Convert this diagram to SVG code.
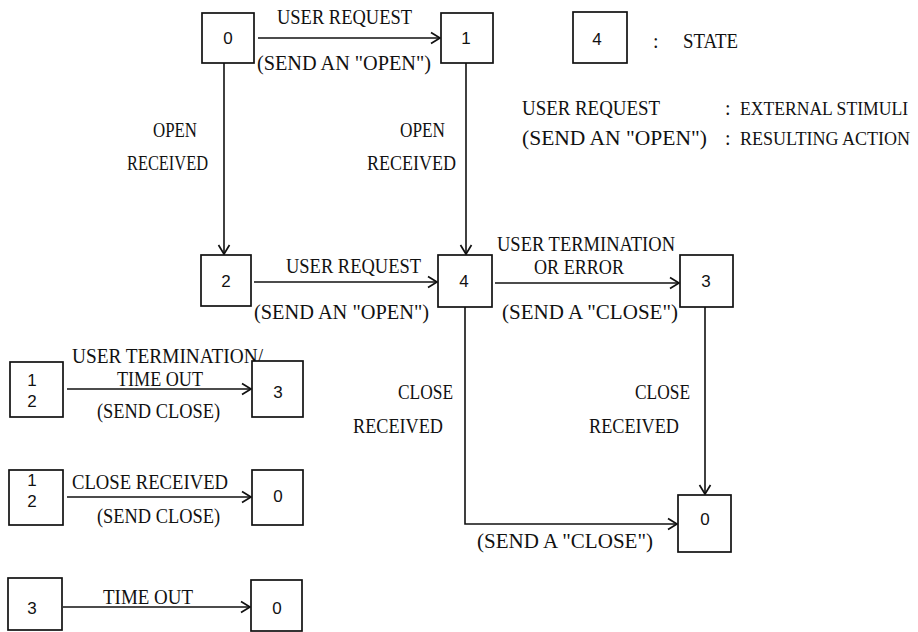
<svg xmlns="http://www.w3.org/2000/svg" width="918" height="632" viewBox="0 0 918 632">
<style>
.box{fill:#fff;stroke:#111;stroke-width:1.7}
.ln{fill:none;stroke:#111;stroke-width:1.6}
.t{font-family:"Liberation Serif",serif;font-size:20px;fill:#111}
.s{font-size:18px}
.d{font-family:"Liberation Sans",sans-serif;font-size:17px;fill:#111;text-anchor:middle}
</style>
<defs>
<marker id="ah" markerUnits="userSpaceOnUse" markerWidth="14" markerHeight="14" viewBox="-12 -7 14 14" refX="0" refY="0" orient="auto">
<path d="M-9,-5.5 L0,0 L-9,5.5" fill="none" stroke="#111" stroke-width="1.7"/>
</marker>
</defs>
<rect width="918" height="632" fill="#fff"/>

<g id="connectors">
<line class="ln" x1="258" y1="38" x2="440" y2="38" marker-end="url(#ah)"/>
<line class="ln" x1="224" y1="63" x2="224" y2="254" marker-end="url(#ah)"/>
<line class="ln" x1="466" y1="63" x2="466" y2="254" marker-end="url(#ah)"/>
<line class="ln" x1="254" y1="282" x2="437" y2="282" marker-end="url(#ah)"/>
<line class="ln" x1="495" y1="283" x2="679" y2="283" marker-end="url(#ah)"/>
<line class="ln" x1="705" y1="307" x2="705" y2="494" marker-end="url(#ah)"/>
<polyline class="ln" points="465,307 465,524 677,524" marker-end="url(#ah)"/>
<line class="ln" x1="67" y1="389" x2="251" y2="389" marker-end="url(#ah)"/>
<line class="ln" x1="67" y1="497" x2="251" y2="497" marker-end="url(#ah)"/>
<line class="ln" x1="63" y1="607" x2="250" y2="607" marker-end="url(#ah)"/>
</g>

<g id="labels">
<text class="t" x="277" y="24" textLength="135" lengthAdjust="spacingAndGlyphs">USER REQUEST</text>
<text class="t" x="257" y="70" textLength="174" lengthAdjust="spacingAndGlyphs">(SEND AN "OPEN")</text>
<text class="t" x="153" y="137" textLength="44" lengthAdjust="spacingAndGlyphs">OPEN</text>
<text class="t" x="127" y="170" textLength="81" lengthAdjust="spacingAndGlyphs">RECEIVED</text>
<text class="t" x="400" y="137" textLength="45" lengthAdjust="spacingAndGlyphs">OPEN</text>
<text class="t" x="367" y="170" textLength="89" lengthAdjust="spacingAndGlyphs">RECEIVED</text>
<text class="t" x="286" y="273" textLength="135" lengthAdjust="spacingAndGlyphs">USER REQUEST</text>
<text class="t" x="254" y="319" textLength="175" lengthAdjust="spacingAndGlyphs">(SEND AN "OPEN")</text>
<text class="t" x="497" y="251" textLength="178" lengthAdjust="spacingAndGlyphs">USER TERMINATION</text>
<text class="t" x="534" y="274" textLength="90" lengthAdjust="spacingAndGlyphs">OR ERROR</text>
<text class="t" x="502" y="319" textLength="176" lengthAdjust="spacingAndGlyphs">(SEND A "CLOSE")</text>
<text class="t" x="398" y="399" textLength="55" lengthAdjust="spacingAndGlyphs">CLOSE</text>
<text class="t" x="353" y="433" textLength="90" lengthAdjust="spacingAndGlyphs">RECEIVED</text>
<text class="t" x="635" y="399" textLength="55" lengthAdjust="spacingAndGlyphs">CLOSE</text>
<text class="t" x="589" y="433" textLength="90" lengthAdjust="spacingAndGlyphs">RECEIVED</text>
<text class="t" x="477" y="548" textLength="176" lengthAdjust="spacingAndGlyphs">(SEND A "CLOSE")</text>
<text class="t" x="72" y="363" textLength="191" lengthAdjust="spacingAndGlyphs">USER TERMINATION/</text>
<text class="t" x="117" y="386" textLength="86" lengthAdjust="spacingAndGlyphs">TIME OUT</text>
<text class="t" x="97" y="418" textLength="123" lengthAdjust="spacingAndGlyphs">(SEND CLOSE)</text>
<text class="t" x="72" y="489" textLength="156" lengthAdjust="spacingAndGlyphs">CLOSE RECEIVED</text>
<text class="t" x="97" y="523" textLength="123" lengthAdjust="spacingAndGlyphs">(SEND CLOSE)</text>
<text class="t" x="103" y="604" textLength="90" lengthAdjust="spacingAndGlyphs">TIME OUT</text>
</g>

<g id="legend">
<rect class="box" x="573" y="12" width="54" height="51"/>
<text class="d" x="597" y="45">4</text>
<text class="t" x="653" y="48">:</text>
<text class="t" x="683" y="48" textLength="55" lengthAdjust="spacingAndGlyphs">STATE</text>
<text class="t" x="522" y="115" textLength="138" lengthAdjust="spacingAndGlyphs">USER REQUEST</text>
<text class="t" x="725" y="115">:</text>
<text class="t s" x="740" y="115" textLength="168" lengthAdjust="spacingAndGlyphs">EXTERNAL STIMULI</text>
<text class="t" x="522" y="145" textLength="185" lengthAdjust="spacingAndGlyphs">(SEND AN "OPEN")</text>
<text class="t" x="725" y="145">:</text>
<text class="t s" x="740" y="145" textLength="170" lengthAdjust="spacingAndGlyphs">RESULTING ACTION</text>
</g>

<g id="s0_top"><rect class="box" x="202" y="13" width="52" height="50"/><text class="d" x="228" y="44">0</text></g>
<g id="s1_top"><rect class="box" x="441" y="13" width="52" height="50"/><text class="d" x="466" y="44">1</text></g>
<g id="s2_mid"><rect class="box" x="201" y="255" width="50" height="51"/><text class="d" x="226" y="287">2</text></g>
<g id="s4_mid"><rect class="box" x="438" y="255" width="54" height="52"/><text class="d" x="464" y="287">4</text></g>
<g id="s3_mid"><rect class="box" x="680" y="255" width="53" height="52"/><text class="d" x="706" y="287">3</text></g>
<g id="s0_br"><rect class="box" x="678" y="495" width="53" height="57"/><text class="d" x="705" y="525">0</text></g>

<g id="g1_from"><rect class="box" x="10" y="362" width="53" height="55"/><text class="d" x="32" y="386">1</text><text class="d" x="32" y="407">2</text></g>
<g id="g1_to"><rect class="box" x="252" y="361" width="51" height="56"/><text class="d" x="278" y="398">3</text></g>
<g id="g2_from"><rect class="box" x="9" y="470" width="54" height="55"/><text class="d" x="32" y="486">1</text><text class="d" x="32" y="507">2</text></g>
<g id="g2_to"><rect class="box" x="252" y="470" width="51" height="55"/><text class="d" x="278" y="502">0</text></g>
<g id="g3_from"><rect class="box" x="8" y="578" width="54" height="52"/><text class="d" x="32" y="614">3</text></g>
<g id="g3_to"><rect class="box" x="251" y="580" width="51" height="51"/><text class="d" x="277" y="614">0</text></g>
</svg>
